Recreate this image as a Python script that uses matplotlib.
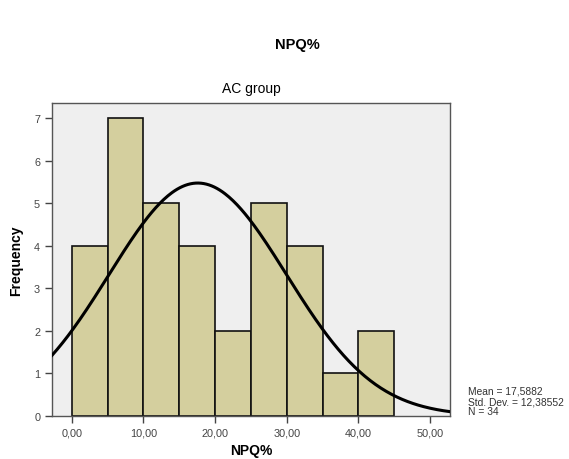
import numpy as np
import matplotlib.pyplot as plt

# histogram data
bin_edges = [0, 5, 10, 15, 20, 25, 30, 35, 40, 45]
counts = [4, 7, 5, 4, 2, 5, 4, 1, 2]
mean = 17.5882
std = 12.38552
n = 34
xticks = [0, 10, 20, 30, 40, 50]
xtick_labels = ["0,00", "10,00", "20,00", "30,00", "40,00", "50,00"]
yticks = [0, 1, 2, 3, 4, 5, 6, 7]

plt.rcParams['font.family'] = ['Liberation Sans', 'DejaVu Sans']

fig = plt.figure(figsize=(5.69, 4.6), dpi=100)
ax = fig.add_axes([0.0914, 0.094, 0.6996, 0.680])
ax.set_facecolor("#efefef")

widths = np.diff(bin_edges)
ax.bar(bin_edges[:-1], counts, width=widths, align="edge",
       color="#d4cf9e", edgecolor="#111111", linewidth=1.2, zorder=2)

# normal curve scaled to the histogram
x = np.linspace(-2.75, 52.8, 300)
bw = widths[0]
y = n * bw / (std * np.sqrt(2 * np.pi)) * np.exp(-0.5 * ((x - mean) / std) ** 2)
ax.plot(x, y, color="black", linewidth=2.2, zorder=3)

ax.set_xlim(-2.75, 52.8)
ax.set_ylim(0, 7.36)
ax.set_xticks(xticks)
ax.set_xticklabels(xtick_labels)
ax.set_yticks(yticks)
ax.tick_params(direction="out", length=5, width=1, colors="#444444",
               labelsize=7.8, top=False, right=False)
for s in ax.spines.values():
    s.set_color("#555555")
    s.set_linewidth(1)

ax.set_xlabel("NPQ%", fontsize=10, fontweight="bold", labelpad=4)
ax.set_ylabel("Frequency", fontsize=10, fontweight="bold", labelpad=8)
ax.set_title("AC group", fontsize=10, pad=8)
fig.text(0.522, 0.902, "NPQ%", fontsize=10.5, fontweight="bold", ha="center", va="center")

fig.text(0.822, 0.126, "Mean = 17,5882\nStd. Dev. = 12,38552\nN = 34",
         fontsize=7.4, color="#333333", ha="left", va="center", linespacing=1.05)

fig.savefig("out.png", dpi=100)
